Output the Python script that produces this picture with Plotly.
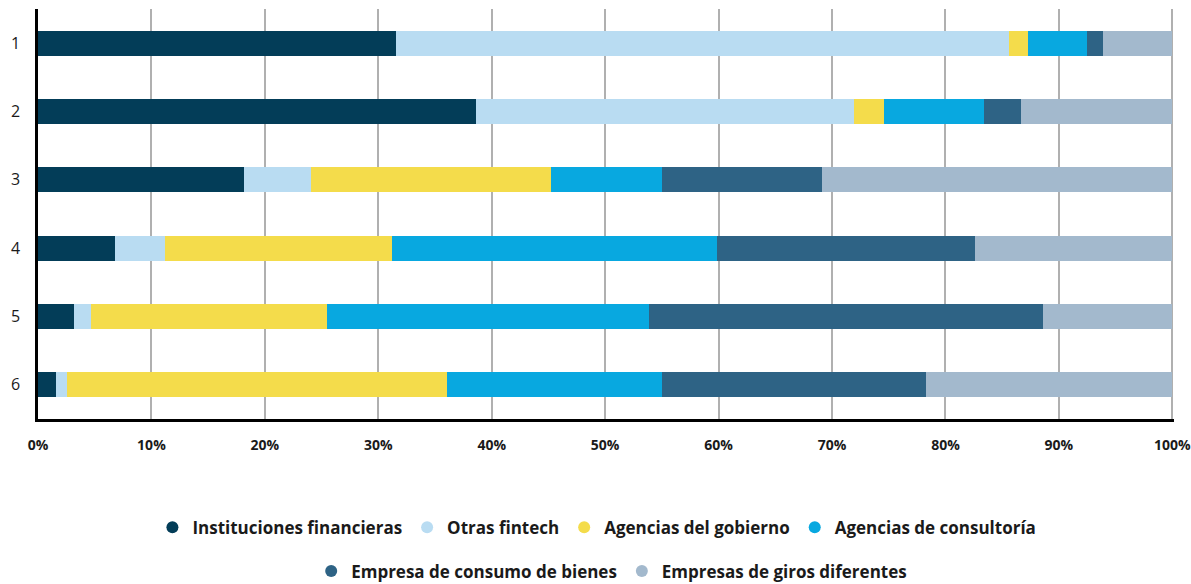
import plotly.graph_objects as go

categories = ["1", "2", "3", "4", "5", "6"]

series_names = [
    "Instituciones financieras",
    "Otras fintech",
    "Agencias del gobierno",
    "Agencias de consultoría",
    "Empresa de consumo de bienes",
    "Empresas de giros diferentes",
]

instituciones = [31.6, 38.6, 18.2, 6.8, 3.2, 1.6]
otras_fintech = [54.0, 33.3, 5.9, 4.4, 1.5, 1.0]
gobierno = [1.7, 2.7, 21.1, 20.0, 20.8, 33.5]
consultoria = [5.2, 8.8, 9.8, 28.7, 28.4, 18.9]
consumo = [1.4, 3.3, 14.1, 22.7, 34.7, 23.3]
giros = [6.1, 13.3, 30.9, 17.4, 11.4, 21.7]

x_ticks = [0, 10, 20, 30, 40, 50, 60, 70, 80, 90, 100]
x_tick_labels = ["0%", "10%", "20%", "30%", "40%", "50%", "60%", "70%", "80%", "90%", "100%"]

colors = ["#033D58", "#B9DCF2", "#F4DC4B", "#08A8E0", "#2E6385", "#A3B9CD"]

values = [instituciones, otras_fintech, gobierno, consultoria, consumo, giros]

fig = go.Figure()

for name, vals, color in zip(series_names, values, colors):
    fig.add_trace(go.Bar(
        y=categories, x=vals, name=name, orientation="h",
        marker=dict(color=color, line=dict(width=0)),
        showlegend=False,
    ))

# circular legend markers, split over two rows
for i, (name, color) in enumerate(zip(series_names, colors)):
    fig.add_trace(go.Scatter(
        x=[None], y=[None], mode="markers", name=name,
        marker=dict(color=color, size=15, symbol="circle"),
        legend="legend" if i < 4 else "legend2",
    ))

legend_font = dict(family="Open Sans", size=17, color="#1a1a1a", weight="bold")

fig.update_layout(
    width=1191, height=584,
    margin=dict(l=38, r=17, t=9, b=165, autoexpand=False),
    paper_bgcolor="white", plot_bgcolor="white",
    barmode="stack", bargap=0.633,
    font=dict(family="Open Sans", color="#1a1a1a"),
    xaxis=dict(
        range=[0, 100.15], tickvals=x_ticks, ticktext=x_tick_labels,
        showgrid=True, gridcolor="#B0B0B0", gridwidth=1.5,
        showline=True, linecolor="black", linewidth=2.5,
        zeroline=False, ticks="", ticklabelstandoff=11,
        tickfont=dict(family="Open Sans", size=14, color="#1a1a1a", weight="bold"),
        fixedrange=True,
    ),
    yaxis=dict(
        categoryorder="array", categoryarray=categories, autorange="reversed",
        showgrid=False, showline=True, linecolor="black", linewidth=2.5,
        ticks="", ticklabelstandoff=12,
        tickfont=dict(family="Open Sans", size=16, color="#1a1a1a"),
        fixedrange=True,
    ),
    legend=dict(
        orientation="h", traceorder="normal",
        x=0.492, xanchor="center", y=-0.265, yanchor="middle",
        font=legend_font, itemsizing="constant", bgcolor="rgba(0,0,0,0)",
    ),
    legend2=dict(
        orientation="h", traceorder="normal",
        x=0.505, xanchor="center", y=-0.372, yanchor="middle",
        font=legend_font, itemsizing="constant", bgcolor="rgba(0,0,0,0)",
    ),
)

fig.write_html("out.html")
